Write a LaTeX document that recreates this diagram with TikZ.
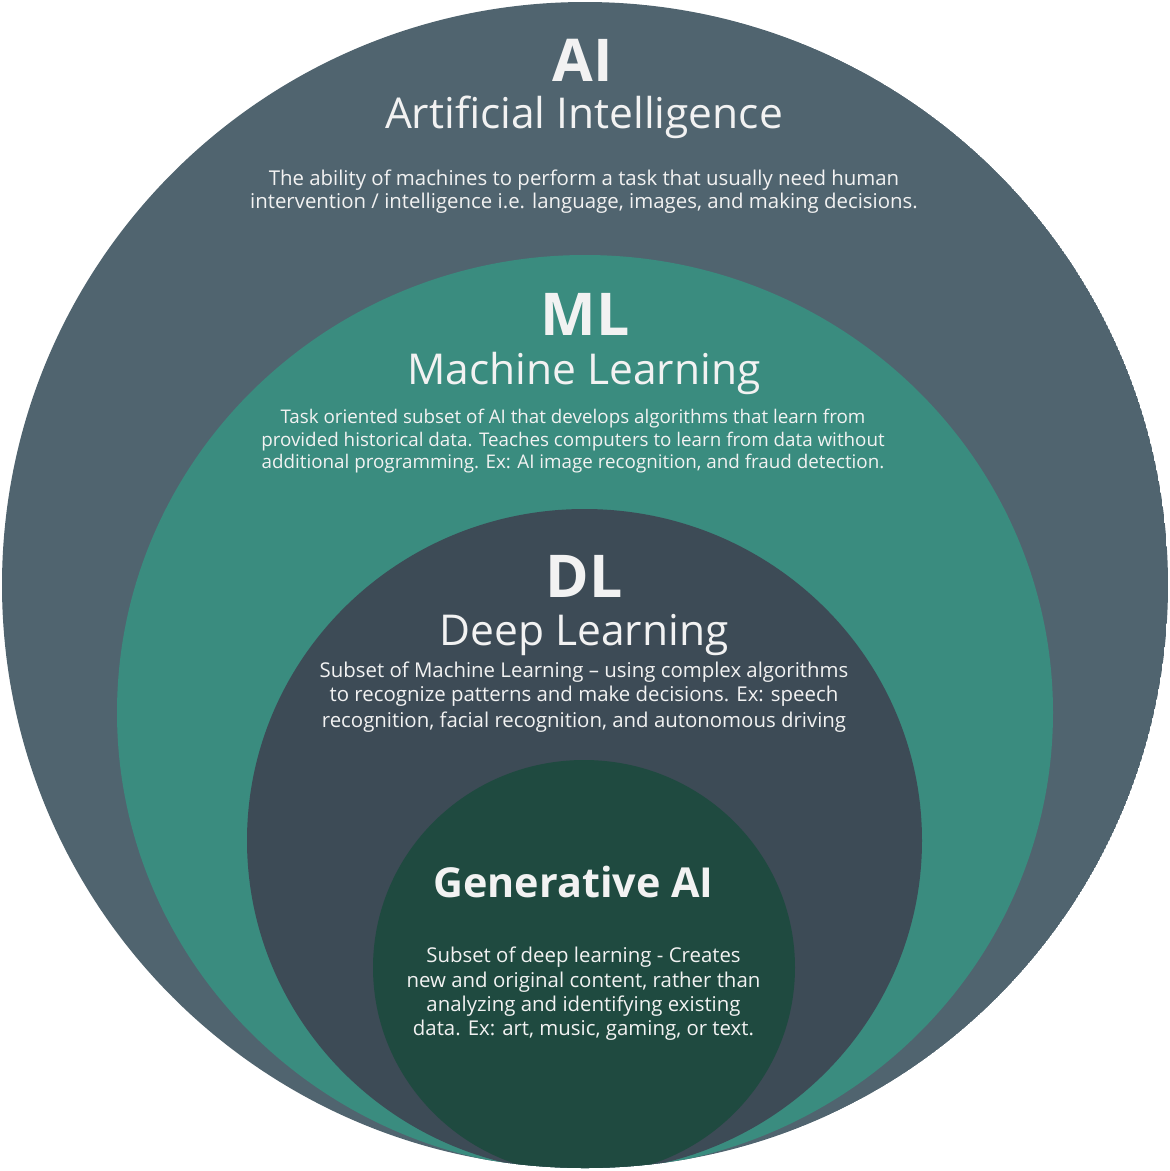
\documentclass[tikz,border=0pt]{standalone}
\usepackage{fontspec}
\setmainfont{Open Sans}
\definecolor{aicol}{HTML}{50646F}
\definecolor{mlcol}{HTML}{3A8C7F}
\definecolor{dlcol}{HTML}{3D4B56}
\definecolor{gencol}{HTML}{1F4A40}
\definecolor{txtcol}{HTML}{F2F2F2}
\begin{document}
\begin{tikzpicture}[x=1pt,y=-1pt,
  txt/.style={text=txtcol, inner sep=0pt, anchor=base},
  abbr/.style={txt, font=\fontsize{59}{62}\selectfont\bfseries},
  title/.style={txt, font=\fontsize{42.5}{46}\selectfont},
  gtitle/.style={txt, font=\fontsize{41.3}{44}\selectfont\bfseries},
  body/.style={txt, font=\fontsize{20.4}{23}\selectfont},
  mlbody/.style={txt, font=\fontsize{18.8}{22}\selectfont}]
\useasboundingbox (0,0) rectangle (1170,1171);
\fill[white] (0,0) rectangle (1170,1171);
\begin{scope}
  \clip (585,585) circle[radius=583pt];
  \fill[aicol] (585,585) circle[radius=583pt];
  \fill[mlcol] (585,712.5) ellipse[x radius=468pt, y radius=457.5pt];
  \fill[dlcol] (584.5,840.5) ellipse[x radius=337.5pt, y radius=331.5pt];
  \fill[gencol] (584,967.5) ellipse[x radius=211pt, y radius=207.5pt];
\end{scope}
% AI
\node[abbr] (ai) at (583,81) {AI};
\node[title] (ait) at (584,128) {Artificial Intelligence};
\node[body] (aib1) at (584,185) {The ability of machines to perform a task that usually need human};
\node[body] (aib2) at (584,208) {intervention / intelligence i.e. language, images, and making decisions.};
% ML
\node[abbr] (ml) at (585,335) {ML};
\node[title] (mlt) at (584,384) {Machine Learning};
\node[mlbody] (mlb1) at (573,423) {Task oriented subset of AI that develops algorithms that learn from};
\node[mlbody] (mlb2) at (573,446) {provided historical data. Teaches computers to learn from data without};
\node[mlbody] (mlb3) at (573,468) {additional programming. Ex: AI image recognition, and fraud detection.};
% DL
\node[abbr] (dl) at (584,597) {DL};
\node[title] (dlt) at (584,645) {Deep Learning};
\node[body] (dlb1) at (584,677) {Subset of Machine Learning -- using complex algorithms};
\node[body] (dlb2) at (584,701) {to recognize patterns and make decisions. Ex: speech};
\node[body] (dlb3) at (584,727) {recognition, facial recognition, and autonomous driving};
% GenAI
\node[gtitle] (gt) at (573.5,897) {Generative AI};
\node[body] (gb1) at (583.5,962) {Subset of deep learning - Creates};
\node[body] (gb2) at (583.5,987) {new and original content, rather than};
\node[body] (gb3) at (583.5,1011) {analyzing and identifying existing};
\node[body] (gb4) at (583.5,1035) {data. Ex: art, music, gaming, or text.};
\end{tikzpicture}
\end{document}
